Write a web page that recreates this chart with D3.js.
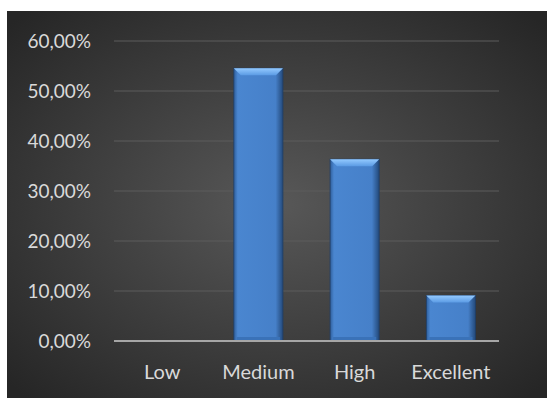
<!DOCTYPE html>
<html>
<head>
<meta charset="utf-8">
<script src="https://cdn.jsdelivr.net/npm/d3@7"></script>
<style>
  body { margin: 0; background: #fff; }
  text { font-family: Lato, "Open Sans", sans-serif; }
</style>
</head>
<body>
<div class="chart"></div>
<script>
// data
const categories = ["Low", "Medium", "High", "Excellent"];
const values = [0, 0.5455, 0.3636, 0.0909];
const yTicks = [0, 0.1, 0.2, 0.3, 0.4, 0.5, 0.6];

const width = 547;
const height = 398;
const margin = { top: 41, right: 48, bottom: 57, left: 114 };

const svg = d3
  .select(".chart")
  .append("svg")
  .attr("width", width)
  .attr("height", height);

const defs = svg.append("defs");

// dark radial background
const bg = defs
  .append("radialGradient")
  .attr("id", "bg")
  .attr("cx", "50%")
  .attr("cy", "50%")
  .attr("r", "68%");
bg.append("stop").attr("offset", "0%").attr("stop-color", "#585858");
bg.append("stop").attr("offset", "100%").attr("stop-color", "#262626");

// bar body gradient (dark edges)
const barGrad = defs
  .append("linearGradient")
  .attr("id", "barGrad")
  .attr("x1", "0%")
  .attr("x2", "100%");
barGrad.append("stop").attr("offset", "0%").attr("stop-color", "#2f5f9c");
barGrad.append("stop").attr("offset", "8%").attr("stop-color", "#4a86d0");
barGrad.append("stop").attr("offset", "85%").attr("stop-color", "#4680c9");
barGrad.append("stop").attr("offset", "100%").attr("stop-color", "#23497a");

const topGrad = defs
  .append("linearGradient")
  .attr("id", "topGrad")
  .attr("x1", "0%")
  .attr("y1", "0%")
  .attr("x2", "0%")
  .attr("y2", "100%");
topGrad.append("stop").attr("offset", "0%").attr("stop-color", "#94caff");
topGrad.append("stop").attr("offset", "100%").attr("stop-color", "#5b9be4");

svg
  .append("rect")
  .attr("x", 7)
  .attr("y", 11)
  .attr("width", width - 7)
  .attr("height", height - 11)
  .attr("fill", "url(#bg)");

// scales
const x = d3
  .scaleBand()
  .domain(categories)
  .range([margin.left, width - margin.right])
  .paddingInner(0.49)
  .paddingOuter(0.245);

const y = d3
  .scaleLinear()
  .domain([0, 0.6])
  .range([height - margin.bottom, margin.top]);

// gridlines
svg
  .append("g")
  .selectAll("line")
  .data(yTicks.slice(1))
  .enter()
  .append("line")
  .attr("x1", margin.left)
  .attr("x2", width - margin.right)
  .attr("y1", d => y(d))
  .attr("y2", d => y(d))
  .attr("stroke", "#5c5c5c")
  .attr("stroke-width", 1);

// y axis labels
const fmt = d => d3.format(".2f")(d * 100).replace(".", ",") + "%";
const yAxis = d3
  .axisLeft(y)
  .tickValues(yTicks)
  .tickFormat(fmt)
  .tickSize(0)
  .tickPadding(23);

svg
  .append("g")
  .attr("transform", "translate(" + margin.left + ",0)")
  .call(yAxis)
  .call(g => g.select(".domain").remove())
  .selectAll("text")
  .attr("fill", "#d9d9d9")
  .attr("font-size", "19px");

// bars
const bars = svg
  .append("g")
  .selectAll("g.bar")
  .data(categories.map((c, i) => ({ cat: c, val: values[i] })).filter(d => d.val > 0))
  .enter()
  .append("g")
  .attr("class", "bar");

bars
  .append("rect")
  .attr("x", d => x(d.cat))
  .attr("y", d => y(d.val))
  .attr("width", x.bandwidth())
  .attr("height", d => y(0) - y(d.val))
  .attr("fill", "url(#barGrad)")
  .attr("stroke", "#1f3f69")
  .attr("stroke-width", 0.8);

// top bevel
const bevel = 7;
bars
  .append("path")
  .attr("d", d => {
    const x0 = x(d.cat);
    const x1 = x0 + x.bandwidth();
    const y0 = y(d.val);
    return (
      "M" + x0 + "," + y0 +
      "L" + x1 + "," + y0 +
      "L" + (x1 - bevel) + "," + (y0 + bevel) +
      "L" + (x0 + bevel) + "," + (y0 + bevel) + "Z"
    );
  })
  .attr("fill", "url(#topGrad)");

// bottom bevel shadow
bars
  .append("rect")
  .attr("x", d => x(d.cat) + 3)
  .attr("y", y(0) - 4)
  .attr("width", x.bandwidth() - 6)
  .attr("height", 4)
  .attr("fill", "#3a72b8");

// baseline
svg
  .append("line")
  .attr("x1", margin.left)
  .attr("x2", width - margin.right)
  .attr("y1", y(0))
  .attr("y2", y(0))
  .attr("stroke", "#a6a6a6")
  .attr("stroke-width", 2);

// x axis labels
const xAxis = d3.axisBottom(x).tickSize(0).tickPadding(24);
svg
  .append("g")
  .attr("transform", "translate(0," + y(0) + ")")
  .call(xAxis)
  .call(g => g.select(".domain").remove())
  .selectAll("text")
  .attr("fill", "#d9d9d9")
  .attr("font-size", "20px");
</script>
</body>
</html>
